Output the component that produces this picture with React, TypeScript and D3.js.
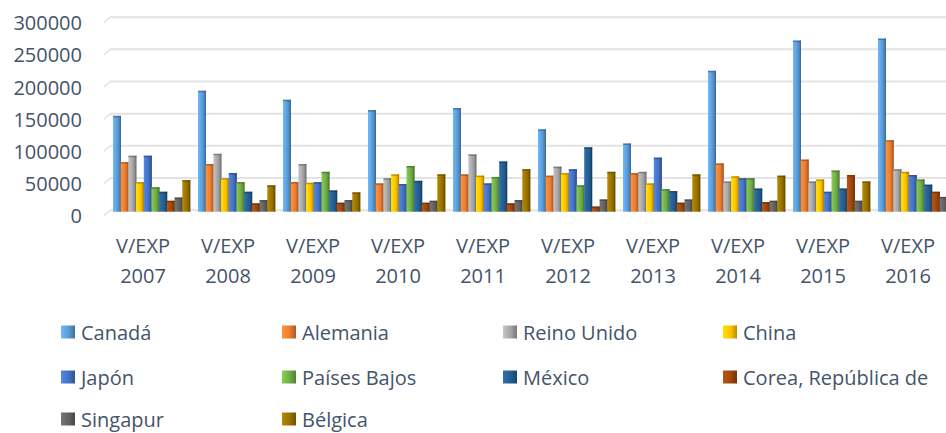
import React from "react";
import * as d3 from "d3";

const years = ["2007", "2008", "2009", "2010", "2011", "2012", "2013", "2014", "2015", "2016"];
const series = ["Canadá", "Alemania", "Reino Unido", "China", "Japón", "Países Bajos", "México", "Corea, República de", "Singapur", "Bélgica"];
const colors = ["#5B9BD5", "#ED7D31", "#A5A5A5", "#FFC000", "#4472C4", "#70AD47", "#255E91", "#9E480E", "#636363", "#997300"];
const yTicks = [0, 50000, 100000, 150000, 200000, 250000, 300000];

// values per series, one per year 2007..2016
const canada = [149000, 188000, 174000, 158000, 161000, 128000, 106000, 219000, 266000, 269000];
const alemania = [77000, 74000, 46000, 44000, 58000, 56000, 60000, 75000, 81000, 111000];
const reinoUnido = [87000, 90000, 74000, 52000, 89000, 70000, 62000, 47000, 47000, 66000];
const china = [46000, 52000, 45000, 58000, 56000, 60000, 44000, 55000, 50000, 62000];
const japon = [87000, 60000, 46000, 43000, 44000, 66000, 84000, 52000, 31000, 57000];
const paisesBajos = [38000, 46000, 62000, 71000, 54000, 41000, 35000, 52000, 64000, 50000];
const mexico = [31000, 31000, 33000, 48000, 78000, 100000, 32000, 36000, 36000, 42000];
const corea = [17000, 13000, 14000, 14000, 13000, 8000, 14000, 15000, 57000, 31000];
const singapur = [22000, 18000, 18000, 17000, 18000, 19000, 19000, 17000, 17000, 23000];
const belgica = [49000, 41000, 30000, 58000, 66000, 62000, 58000, 56000, 47000, 20000];

const values = [canada, alemania, reinoUnido, china, japon, paisesBajos, mexico, corea, singapur, belgica];

const W = 946;
const H = 433;
const textColor = "#44546A";
const font = "'Open Sans', sans-serif";

export default function App() {
  const x = d3.scaleBand<string>().domain(years).range([100.5, 950.5]).padding(0);
  const y = d3.scaleLinear().domain([0, 300000]).range([211.7, 18.7]);
  const inner = d3.scaleBand<string>().domain(series).range([0, 77]).padding(0);

  const legendCols = [61, 282, 503, 723];
  const legendRows = [332, 377, 419];

  return (
    <div style={{ position: "absolute", left: 0, top: 0 }}>
      <svg width={W} height={H} style={{ display: "block", background: "#fff" }}>
        <defs>
          {colors.map((c, i) => {
            const base = d3.color(c)!;
            return (
              <linearGradient key={i} id={`g${i}`} x1="0" x2="1" y1="0" y2="0">
                <stop offset="0%" stopColor={base.brighter(0.5).formatHex()} />
                <stop offset="55%" stopColor={c} />
                <stop offset="100%" stopColor={base.darker(0.9).formatHex()} />
              </linearGradient>
            );
          })}
        </defs>
        {/* gridlines */}
        {yTicks.map((t) => (
          <g key={t}>
            <line x1={110} x2={W} y1={y(t) - 1.5} y2={y(t) - 1.5} stroke="#e3e3e3" strokeWidth={2} />
            <line x1={104} x2={110} y1={y(t) + 4} y2={y(t) - 1.5} stroke="#e3e3e3" strokeWidth={1.5} />
          </g>
        ))}
        {/* y tick labels */}
        {yTicks.map((t) => (
          <text key={t} x={82} y={y(t) + 4} textAnchor="end" dominantBaseline="central" fontFamily={font} fontSize={20} fill={textColor}>
            {t}
          </text>
        ))}
        {/* bars */}
        {years.map((yr, gi) => (
          <g key={yr}>
            {series.map((s, si) => {
              const v = values[si][gi];
              const bx = (x(yr) as number) + 12.5 + (inner(s) as number);
              const by = y(v);
              const h = y(0) - by;
              const dark = d3.color(colors[si])!.darker(1.2).formatHex();
              return (
                <g key={s}>
                  <rect x={bx} y={by} width={8} height={h} fill={`url(#g${si})`} />
                  <rect x={bx} y={by} width={8} height={1.5} fill={dark} opacity={0.7} />
                  <rect x={bx + 7} y={by} width={1} height={h} fill={dark} opacity={0.6} />
                </g>
              );
            })}
          </g>
        ))}
        {/* category labels */}
        {years.map((yr) => {
          const cx = (x(yr) as number) + x.bandwidth() / 2;
          return (
            <g key={yr}>
              <text x={cx} y={245} textAnchor="middle" dominantBaseline="central" fontFamily={font} fontSize={20} fill={textColor}>
                V/EXP
              </text>
              <text x={cx} y={275} textAnchor="middle" dominantBaseline="central" fontFamily={font} fontSize={20} fill={textColor}>
                {yr}
              </text>
            </g>
          );
        })}
        {/* legend */}
        {series.map((s, i) => {
          const lx = legendCols[i % 4];
          const ly = legendRows[Math.floor(i / 4)];
          return (
            <g key={s}>
              <rect x={lx} y={ly - 6.5} width={14} height={13} fill={`url(#g${i})`} />
              <text x={lx + 20} y={ly} dominantBaseline="central" fontFamily={font} fontSize={20} fill={textColor}>
                {s}
              </text>
            </g>
          );
        })}
      </svg>
    </div>
  );
}
